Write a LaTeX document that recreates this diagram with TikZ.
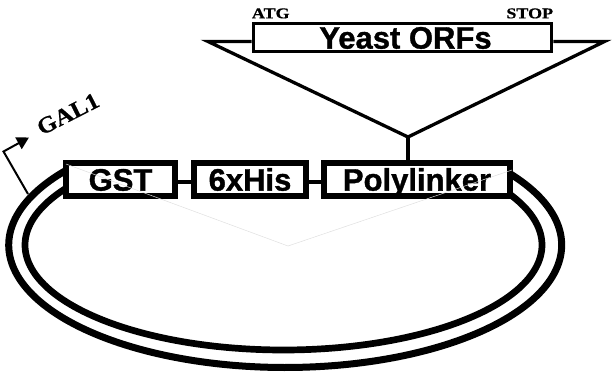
\documentclass[tikz,border=0pt]{standalone}
\usepackage{fontspec}
\usepackage{graphicx}
\setmainfont[BoldFeatures={FakeBold=0.6}]{Liberation Serif}
\setsansfont[BoldFeatures={FakeBold=1.2}]{Liberation Sans}
\usetikzlibrary{arrows.meta}
\newcommand{\widelbl}[1]{\scalebox{1.2}[1]{\bfseries #1}}
\begin{document}
\begin{tikzpicture}[x=1pt,y=-1pt,
  ringline/.style={line width=7pt},
  orfbox/.style={draw, line width=6pt, fill=white, inner sep=0pt,
    minimum height=33pt, text height=22.2pt, text depth=0pt,
    font=\sffamily\bfseries\fontsize{31}{31}\selectfont},
  linkline/.style={line width=4pt},
  triline/.style={line width=3.3pt, line join=miter},
  lbl/.style={inner sep=0pt, font=\rmfamily\fontsize{15}{15}\selectfont},
  faint/.style={gray!25, line width=0.5pt}]
\useasboundingbox (0,0) rectangle (616,373);
% plasmid rings
\draw[ringline] plot[domain=-36:218,samples=160] ({285.2+276.5*cos(\x)},{245+122.5*sin(\x)});
\draw[ringline, line width=6.7pt] plot[domain=-31:215,samples=160] ({283.5+258.5*cos(\x)},{245+105*sin(\x)});
% promoter arrow
\coordinate (a0) at (28,194);
\coordinate (a1) at (3.5,151.5);
\coordinate (atip) at (29,137.5);
\draw[line width=2pt, line join=miter, -{Triangle[length=12pt,width=13pt]}] (a0) -- (a1) -- (atip);
\node[lbl, font=\rmfamily\fontsize{23}{23}\selectfont, rotate=27] (gal) at (68,114) {\scalebox{1.08}[1]{\bfseries GAL1}};
% boxes
\node[orfbox, minimum width=109pt] (gst) at (120.5,179.5) {GST};
\node[orfbox, minimum width=112pt] (his) at (250,179.5) {6xHis};
\node[orfbox, minimum width=186pt] (poly) at (417,179.5) {Polylinker};
\draw[linkline] ([yshift=-2pt]gst.east) -- ([yshift=-2pt]his.west);
\draw[linkline] ([yshift=-2pt]his.east) -- ([yshift=-2pt]poly.west);
% faint guide lines
\coordinate (f0) at (66,164);
\coordinate (f1) at (288,246);
\coordinate (f2) at (512,170);
\draw[faint] (f0) -- (f1) -- (f2);
% insert
\node[draw, line width=3.3pt, fill=white, inner sep=0pt,
  minimum width=298.3pt, minimum height=28.3pt, text height=22.2pt, text depth=0pt,
  font=\sffamily\bfseries\fontsize{31}{31}\selectfont] (yeast) at (402.5,37.5) {\hspace*{6pt}Yeast ORFs};
\coordinate (tl) at (208,41.5);
\coordinate (tr) at (604.5,41.5);
\coordinate (bot) at (408,137);
\draw[triline] (tl -| yeast.west) -- (tl) -- (bot) -- (tr) -- (tr -| yeast.east);
\draw[triline] (bot) -- (bot |- poly.north);
\node[lbl, anchor=base west] (atg) at ([yshift=3.4pt]yeast.north west) {\widelbl{ATG}};
\node[lbl, anchor=base east] (stop) at ([yshift=3.4pt]yeast.north east) {\widelbl{STOP}};
\end{tikzpicture}
\end{document}
